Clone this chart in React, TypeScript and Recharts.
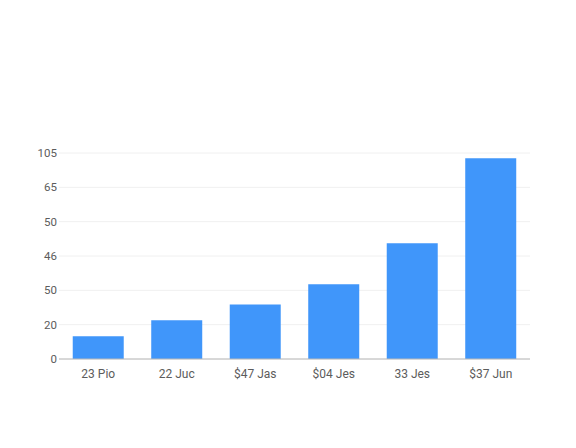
import React from 'react';
import { BarChart, Bar, XAxis, YAxis, CartesianGrid } from 'recharts';

// categories and bar heights (in grid steps, the y axis labels are not linear)
const categories = ['23 Pio', '22 Juc', '$47 Jas', '$04 Jes', '33 Jes', '$37 Jun'];
const values = [0.66, 1.13, 1.59, 2.18, 3.37, 5.85];
const yTickLabels = ['0', '20', '50', '46', '50', '65', '105'];
const yTicks = [0, 1, 2, 3, 4, 5, 6];

const data = categories.map((name, i) => ({ name, value: values[i] }));

export default function App() {
  return (
    <div style={{ position: 'absolute', left: 0, top: 0, background: '#fff' }}>
      <BarChart
        width={576}
        height={448}
        data={data}
        margin={{ top: 153, right: 46, bottom: 59, left: 0 }}
        barCategoryGap="17.5%"
      >
        <CartesianGrid vertical={false} stroke="#f0f0f0" />
        <XAxis
          dataKey="name"
          tickLine={false}
          tickMargin={4}
          axisLine={{ stroke: '#b8b8b8' }}
          tick={{ fontSize: 12, fill: '#5c5c5c', fontFamily: 'Roboto' }}
        />
        <YAxis
          width={59}
          domain={[0, 6]}
          ticks={yTicks}
          interval={0}
          tickFormatter={(v: number) => yTickLabels[v]}
          axisLine={false}
          tickLine={false}
          tickSize={0}
          tickMargin={2}
          tick={{ fontSize: 11.5, fill: '#5c5c5c', fontFamily: 'Roboto' }}
        />
        <Bar dataKey="value" fill="#4096fa" isAnimationActive={false} />
      </BarChart>
    </div>
  );
}
